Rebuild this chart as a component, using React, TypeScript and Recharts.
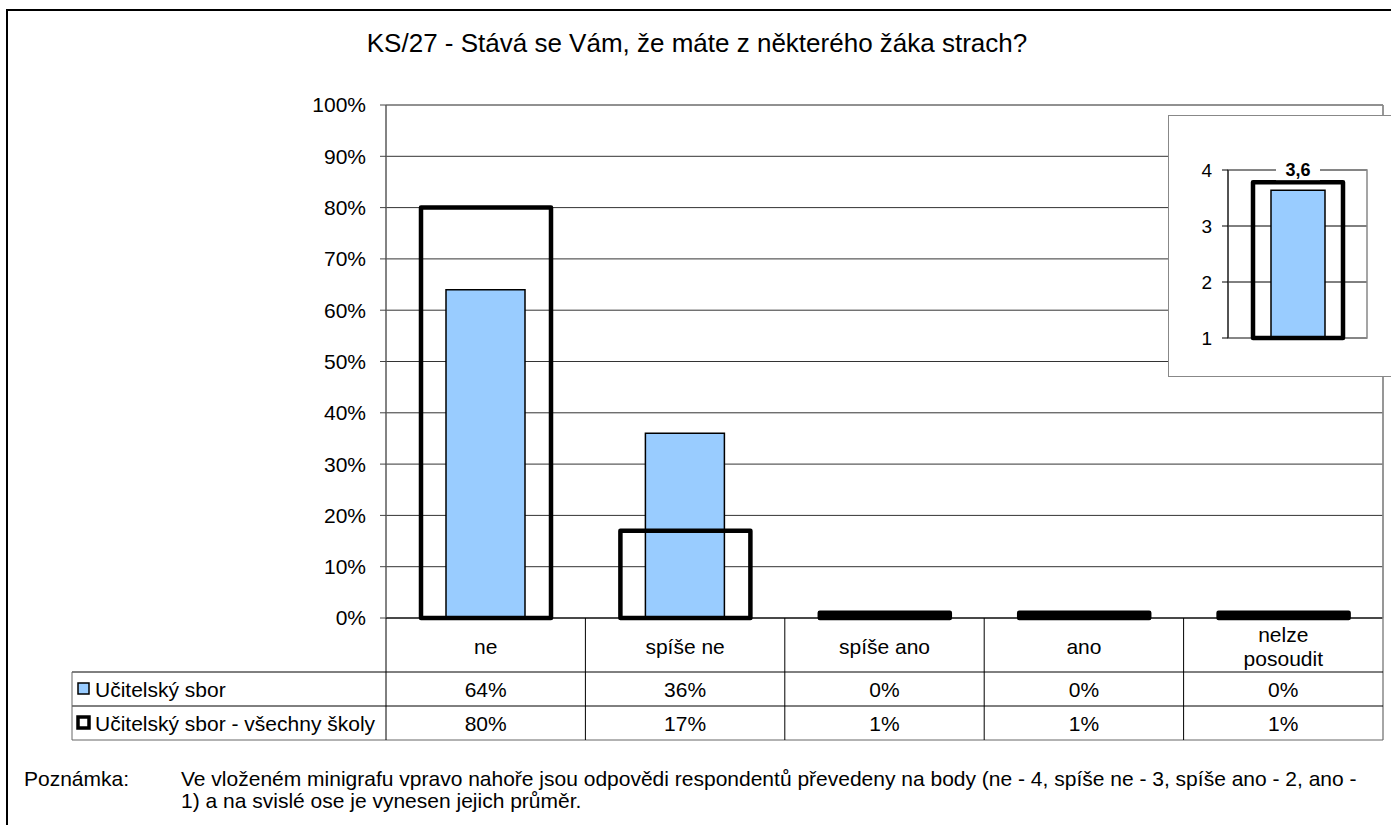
import React from 'react';
import { BarChart, Bar, XAxis, YAxis, CartesianGrid, ReferenceArea, LabelList } from 'recharts';

const categories = ['ne', 'spíše ne', 'spíše ano', 'ano', 'nelze posoudit'];
const ucitelskySbor = [64, 36, 0, 0, 0];
const vsechnySkoly = [80, 17, 1, 1, 1];
const seriesNames = ['Učitelský sbor', 'Učitelský sbor - všechny školy'];
const yTicks = [0, 10, 20, 30, 40, 50, 60, 70, 80, 90, 100];

const insetCategories = ['průměr'];
const insetUcitelsky = [3.64];
const insetVsechny = [3.78];
const insetTicks = [1, 2, 3, 4];

const title = 'KS/27 - Stává se Vám, že máte z některého žáka strach?';
const noteLabel = 'Poznámka:';
const noteLines = [
  'Ve vloženém minigrafu vpravo nahoře jsou odpovědi respondentů převedeny na body (ne - 4, spíše ne - 3, spíše ano - 2, ano -',
  '1) a na svislé ose je vynesen jejich průměr.',
];

const data = categories.map((c, i) => ({ cat: c, ucit: ucitelskySbor[i], vse: vsechnySkoly[i] }));
const insetData = insetCategories.map((c, i) => ({ cat: c, ucit: insetUcitelsky[i], vse: insetVsechny[i] }));

const FONT = '"Liberation Sans", Arial, sans-serif';
const FS = 21;
const W = 1391;
const H = 825;
const PL = 386;
const PR = 1383;
const PT = 105;
const PB = 618;
const ROW1 = 672;
const ROW2 = 706;
const ROW3 = 740;
const TABLE_L = 72;
const bandW = (PR - PL) / categories.length;

const CatTick = (props: any) => {
  const { x, payload } = props;
  const label: string = payload.value;
  const lines = label.length > 10 ? label.split(' ') : [label];
  const cy = PB + 28;
  const lh = 24;
  return (
    <g>
      {lines.map((ln, i) => (
        <text
          key={i}
          x={x}
          y={cy + (i - (lines.length - 1) / 2) * lh}
          textAnchor="middle"
          dominantBaseline="central"
          fontSize={FS}
          fontFamily={FONT}
          fill="#000"
        >
          {ln}
        </text>
      ))}
    </g>
  );
};

const OutlineBar = (props: any) => {
  const { x, y, width, height } = props;
  if (width == null || height == null) return null;
  const small = height < 8;
  return (
    <rect
      x={x}
      y={y}
      width={width}
      height={height}
      fill={small ? '#000' : 'none'}
      stroke="#000"
      strokeWidth={4.5}
      strokeLinejoin="round"
    />
  );
};

const InsetLabel = (props: any) => {
  const { x, y, width, value } = props;
  const cx = x + width / 2;
  const ty = y - 20;
  const txt = Number(value).toFixed(1).replace('.', ',');
  return (
    <g>
      <rect x={cx - 22} y={ty - 10} width={44} height={20} fill="#fff" />
      <text x={cx} y={ty} textAnchor="middle" dominantBaseline="central" fontSize={18} fontWeight="bold" fontFamily={FONT} fill="#000">
        {txt}
      </text>
    </g>
  );
};

export default function App() {
  const rowsY = [ROW1, ROW2];
  const series = [ucitelskySbor, vsechnySkoly];
  return (
    <div style={{ position: 'absolute', left: 0, top: 0, width: W, height: H, background: '#fff', fontFamily: FONT, overflow: 'hidden' }}>
      {/* outer frame */}
      <div style={{ position: 'absolute', left: 6, top: 9, width: W, height: H, border: '2px solid #000', boxSizing: 'border-box' }} />
      <div style={{ position: 'absolute', left: 0, top: 43, width: W + 3, textAlign: 'center', fontSize: 26, lineHeight: '26px', transform: 'translateY(-50%)', color: '#000' }}>{title}</div>

      <div style={{ position: 'absolute', left: 0, top: 0 }}>
        <BarChart width={W} height={H} data={data} margin={{ top: PT, right: W - PR, bottom: H - PB - 60, left: PL - 70 }}>
          <CartesianGrid xAxisId="a" vertical={false} horizontal={true} stroke="#333" strokeWidth={1} />
          <ReferenceArea xAxisId="a" y1={0} y2={100} fill="none" stroke="#888" strokeWidth={1} ifOverflow="visible" />
          <XAxis xAxisId="a" dataKey="cat" height={60} tickLine={false} axisLine={{ stroke: '#000', strokeWidth: 1 }} tick={<CatTick />} interval={0} />
          <XAxis xAxisId="b" dataKey="cat" hide />
          <YAxis
            domain={[0, 100]}
            ticks={yTicks}
            width={70}
            interval={0}
            tickFormatter={(v: number) => `${v}%`}
            tick={{ fontSize: FS, fill: '#000', fontFamily: FONT }}
            tickSize={6}
            tickMargin={14}
            axisLine={{ stroke: '#444' }}
            tickLine={{ stroke: '#444' }}
          />
          <Bar xAxisId="b" dataKey="ucit" barSize={79} fill="#99ccff" stroke="#000" strokeWidth={1.5} isAnimationActive={false} />
          <Bar xAxisId="a" dataKey="vse" barSize={130} fill="none" stroke="#000" strokeWidth={4.5} shape={<OutlineBar />} isAnimationActive={false} />
        </BarChart>
      </div>

      {/* data table */}
      <svg style={{ position: 'absolute', left: 0, top: 0 }} width={W} height={H}>
        <line x1={PR} y1={PT} x2={PR} y2={ROW3} stroke="#888" strokeWidth={1.5} />
        {[ROW1, ROW2, ROW3].map((yy) => (
          <line key={yy} x1={TABLE_L} y1={yy} x2={PR} y2={yy} stroke={yy === ROW3 ? '#666' : '#000'} strokeWidth={1} />
        ))}
        <line x1={TABLE_L} y1={ROW1} x2={TABLE_L} y2={ROW3} stroke="#666" strokeWidth={1} />
        {categories.map((_, i) => (
          <line key={i} x1={PL + i * bandW} y1={PB} x2={PL + i * bandW} y2={ROW3} stroke="#000" strokeWidth={1} />
        ))}
        {rowsY.map((ry, r) => (
          <g key={r}>
            <rect
              x={78}
              y={ry + 11}
              width={11}
              height={11}
              fill={r === 0 ? '#99ccff' : '#fff'}
              stroke="#000"
              strokeWidth={r === 0 ? 1.5 : 3.5}
            />
            <text x={95} y={ry + 17} dominantBaseline="central" fontSize={FS} fontFamily={FONT} fill="#000">
              {seriesNames[r]}
            </text>
            {series[r].map((v, i) => (
              <text key={i} x={PL + (i + 0.5) * bandW} y={ry + 17} textAnchor="middle" dominantBaseline="central" fontSize={FS} fontFamily={FONT} fill="#000">
                {`${v}%`}
              </text>
            ))}
          </g>
        ))}
        <text x={24} y={778} dominantBaseline="central" fontSize={FS} fontFamily={FONT} fill="#000">{noteLabel}</text>
        {noteLines.map((ln, i) => (
          <text key={i} x={181} y={778 + i * 22} dominantBaseline="central" fontSize={FS} fontFamily={FONT} fill="#000">{ln}</text>
        ))}
      </svg>

      {/* inset mini chart */}
      <div style={{ position: 'absolute', left: 1168, top: 115, width: 240, height: 262, background: '#fff', border: '1px solid #888', boxSizing: 'border-box' }}>
        <div style={{ position: 'absolute', left: -1, top: -1 }}>
          <BarChart width={223} height={262} data={insetData} margin={{ top: 55, right: 24, bottom: 39, left: 30 }}>
            <CartesianGrid xAxisId="a" vertical={false} stroke="#000" />
            <ReferenceArea xAxisId="a" y1={1} y2={4} fill="none" stroke="#888" strokeWidth={1.5} ifOverflow="visible" />
            <XAxis xAxisId="a" dataKey="cat" hide />
            <XAxis xAxisId="b" dataKey="cat" hide />
            <YAxis
              domain={[1, 4]}
              ticks={insetTicks}
              width={30}
              interval={0}
              tick={{ fontSize: 19, fill: '#000', fontFamily: FONT }}
              tickSize={6}
              tickMargin={10}
              axisLine={{ stroke: '#000' }}
              tickLine={{ stroke: '#000' }}
            />
            <Bar xAxisId="b" dataKey="ucit" barSize={54} fill="#99ccff" stroke="#000" strokeWidth={1.5} isAnimationActive={false}>
              <LabelList dataKey="ucit" content={<InsetLabel />} />
            </Bar>
            <Bar xAxisId="a" dataKey="vse" barSize={90} fill="none" stroke="#000" strokeWidth={4.5} shape={<OutlineBar />} isAnimationActive={false} />
          </BarChart>
        </div>
      </div>
    </div>
  );
}
